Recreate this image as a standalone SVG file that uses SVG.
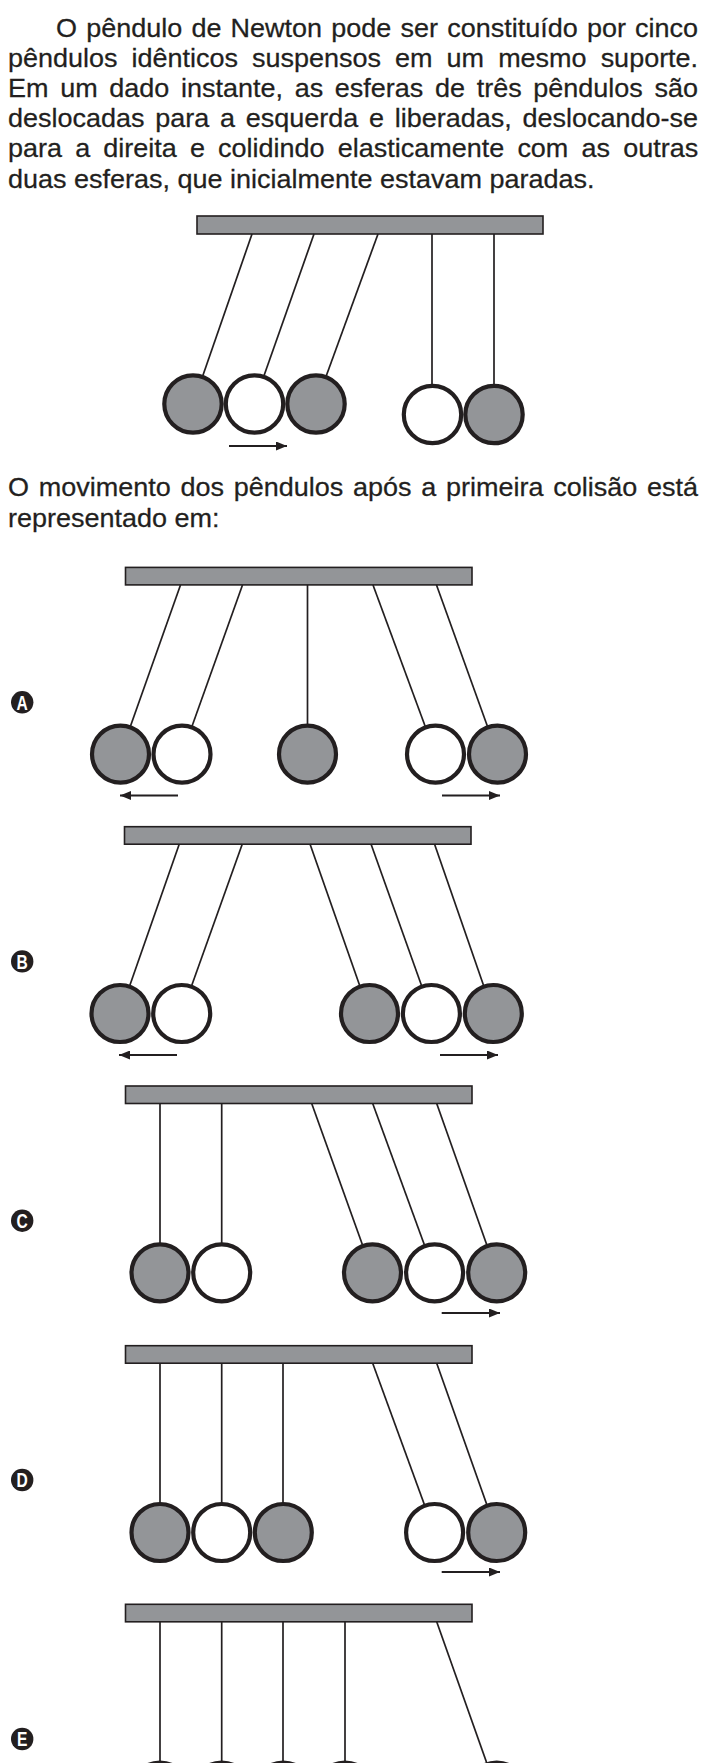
<svg xmlns="http://www.w3.org/2000/svg" width="705" height="1763" viewBox="0 0 705 1763">
<style>
.t{font-family:"Liberation Sans",Arial,sans-serif;font-size:25px;fill:#231f20;stroke:#231f20;stroke-width:0.25}
.bar{fill:#939598;stroke:#231f20;stroke-width:1.6}
.str{stroke:#231f20;stroke-width:1.7;fill:none}
.bg{fill:#939598;stroke:#231f20;stroke-width:4.2}
.bw{fill:#ffffff;stroke:#231f20;stroke-width:4.2}
.arr{stroke:#231f20;stroke-width:2;fill:none;marker-end:url(#ah)}
.lc{fill:#231f20}
.lt{font-family:"Liberation Sans",Arial,sans-serif;font-size:20px;font-weight:bold;fill:#ffffff;text-anchor:middle}
</style>
<defs>
<marker id="ah" markerWidth="11" markerHeight="9" refX="11" refY="4.5" orient="auto" markerUnits="userSpaceOnUse">
<path d="M0,0 L11,4.5 L0,9 Z" fill="#231f20"/>
</marker>
</defs>
<rect width="705" height="1763" fill="#ffffff"/>

<g id="statement" transform="scale(1.08,1)">
<text class="t" x="51.85" y="37" style="word-spacing:1.58px">O pêndulo de Newton pode ser constituído por cinco</text>
<text class="t" x="7.41" y="67" style="word-spacing:6.06px">pêndulos idênticos suspensos em um mesmo suporte.</text>
<text class="t" x="7.41" y="97.2" style="word-spacing:3.87px">Em um dado instante, as esferas de três pêndulos são</text>
<text class="t" x="7.41" y="127.4" style="word-spacing:3.02px">deslocadas para a esquerda e liberadas, deslocando-se</text>
<text class="t" x="7.41" y="157.5" style="word-spacing:5.24px">para a direita e colidindo elasticamente com as outras</text>
<text class="t" x="7.41" y="187.6">duas esferas, que inicialmente estavam paradas.</text>
</g>

<g id="figure-initial">
<rect class="bar" x="197" y="216" width="346" height="18"/>
<g id="fig0-strings">
<line class="str" x1="252" y1="234" x2="193" y2="404"/>
<line class="str" x1="314" y1="234" x2="254" y2="404"/>
<line class="str" x1="378" y1="234" x2="316" y2="404"/>
<line class="str" x1="432" y1="234" x2="432" y2="414"/>
<line class="str" x1="494" y1="234" x2="494" y2="414"/>
</g>
<circle class="bg" cx="193" cy="404" r="28.7"/>
<circle class="bw" cx="254.5" cy="404" r="28.7"/>
<circle class="bg" cx="316" cy="404" r="28.7"/>
<circle class="bw" cx="432.5" cy="414.5" r="28.7"/>
<circle class="bg" cx="494" cy="414.5" r="28.7"/>
<line class="arr" x1="229" y1="446" x2="287" y2="446"/>
</g>

<g id="question" transform="scale(1.08,1)">
<text class="t" x="7.41" y="496" style="word-spacing:2.11px">O movimento dos pêndulos após a primeira colisão está</text>
<text class="t" x="7.41" y="527">representado em:</text>
</g>

<g id="option-A">
<circle class="lc" cx="22.2" cy="702.3" r="11.2"/>
<text class="lt" transform="translate(22.2,702.3) scale(0.78,1)" x="0" y="7.2">A</text>
<rect class="bar" x="125.5" y="567.4" width="346.5" height="17.5"/>
<g id="A-strings">
<line class="str" x1="180.5" y1="585" x2="120.5" y2="754.2"/>
<line class="str" x1="242.5" y1="585" x2="182" y2="754.2"/>
<line class="str" x1="307.5" y1="585" x2="307.5" y2="754.2"/>
<line class="str" x1="373" y1="585" x2="435.5" y2="754.2"/>
<line class="str" x1="436.5" y1="585" x2="497.5" y2="754.2"/>
</g>
<circle class="bg" cx="120.5" cy="754.2" r="28.5"/>
<circle class="bw" cx="182" cy="754.2" r="28.5"/>
<circle class="bg" cx="307.5" cy="754.2" r="28.5"/>
<circle class="bw" cx="435.5" cy="754.2" r="28.5"/>
<circle class="bg" cx="497.5" cy="754.2" r="28.5"/>
<line class="arr" x1="178" y1="795.5" x2="120" y2="795.5"/>
<line class="arr" x1="442" y1="795.5" x2="500" y2="795.5"/>
</g>

<g id="option-B">
<circle class="lc" cx="22.2" cy="961.4" r="11.2"/>
<text class="lt" transform="translate(22.2,961.4) scale(0.78,1)" x="0" y="7.2">B</text>
<rect class="bar" x="124.5" y="826.7" width="346.5" height="17.5"/>
<g id="B-strings">
<line class="str" x1="179.3" y1="844" x2="120" y2="1013.5"/>
<line class="str" x1="242.3" y1="844" x2="181.7" y2="1013.5"/>
<line class="str" x1="310" y1="844" x2="369.5" y2="1013.5"/>
<line class="str" x1="371" y1="844" x2="431.5" y2="1013.5"/>
<line class="str" x1="434.5" y1="844" x2="493.3" y2="1013.5"/>
</g>
<circle class="bg" cx="120" cy="1013.5" r="28.5"/>
<circle class="bw" cx="181.7" cy="1013.5" r="28.5"/>
<circle class="bg" cx="369.5" cy="1013.5" r="28.5"/>
<circle class="bw" cx="431.4" cy="1013.5" r="28.5"/>
<circle class="bg" cx="493.3" cy="1013.5" r="28.5"/>
<line class="arr" x1="177" y1="1055" x2="119" y2="1055"/>
<line class="arr" x1="440" y1="1055" x2="498" y2="1055"/>
</g>

<g id="option-C">
<circle class="lc" cx="22.2" cy="1220.7" r="11.2"/>
<text class="lt" transform="translate(22.2,1220.7) scale(0.78,1)" x="0" y="7.2">C</text>
<rect class="bar" x="125.5" y="1086" width="346.5" height="17.5"/>
<g id="C-strings">
<line class="str" x1="160" y1="1103.5" x2="160" y2="1272.8"/>
<line class="str" x1="221.7" y1="1103.5" x2="221.7" y2="1272.8"/>
<line class="str" x1="311.7" y1="1103.5" x2="372.5" y2="1272.8"/>
<line class="str" x1="372.7" y1="1103.5" x2="434.6" y2="1272.8"/>
<line class="str" x1="436.7" y1="1103.5" x2="496.7" y2="1272.8"/>
</g>
<circle class="bg" cx="160" cy="1272.8" r="28.5"/>
<circle class="bw" cx="221.7" cy="1272.8" r="28.5"/>
<circle class="bg" cx="372.5" cy="1272.8" r="28.5"/>
<circle class="bw" cx="434.6" cy="1272.8" r="28.5"/>
<circle class="bg" cx="496.7" cy="1272.8" r="28.5"/>
<line class="arr" x1="441.7" y1="1313" x2="500" y2="1313"/>
</g>

<g id="option-D">
<circle class="lc" cx="22.2" cy="1480" r="11.2"/>
<text class="lt" transform="translate(22.2,1480) scale(0.78,1)" x="0" y="7.2">D</text>
<rect class="bar" x="125.5" y="1345.7" width="346.5" height="17.5"/>
<g id="D-strings">
<line class="str" x1="160" y1="1363.2" x2="160" y2="1532.5"/>
<line class="str" x1="221.7" y1="1363.2" x2="221.7" y2="1532.5"/>
<line class="str" x1="283" y1="1363.2" x2="283" y2="1532.5"/>
<line class="str" x1="372.7" y1="1363.2" x2="434.6" y2="1532.5"/>
<line class="str" x1="436.7" y1="1363.2" x2="496.7" y2="1532.5"/>
</g>
<circle class="bg" cx="160" cy="1532.5" r="28.5"/>
<circle class="bw" cx="221.7" cy="1532.5" r="28.5"/>
<circle class="bg" cx="283.3" cy="1532.5" r="28.5"/>
<circle class="bw" cx="434.6" cy="1532.5" r="28.5"/>
<circle class="bg" cx="496.7" cy="1532.5" r="28.5"/>
<line class="arr" x1="441.7" y1="1572" x2="500" y2="1572"/>
</g>

<g id="option-E">
<circle class="lc" cx="22.2" cy="1739" r="11.2"/>
<text class="lt" transform="translate(22.2,1739) scale(0.78,1)" x="0" y="7.2">E</text>
<rect class="bar" x="125.5" y="1604.3" width="346.5" height="17.5"/>
<g id="E-strings">
<line class="str" x1="160" y1="1621.8" x2="160" y2="1791"/>
<line class="str" x1="221.7" y1="1621.8" x2="221.7" y2="1791"/>
<line class="str" x1="283" y1="1621.8" x2="283" y2="1791"/>
<line class="str" x1="345" y1="1621.8" x2="345" y2="1791"/>
<line class="str" x1="436.7" y1="1621.8" x2="496.7" y2="1791"/>
</g>
<circle class="bg" cx="160" cy="1791" r="28.5"/>
<circle class="bw" cx="221.7" cy="1791" r="28.5"/>
<circle class="bg" cx="283.3" cy="1791" r="28.5"/>
<circle class="bw" cx="345" cy="1791" r="28.5"/>
<circle class="bg" cx="496.7" cy="1791" r="28.5"/>
</g>
</svg>
